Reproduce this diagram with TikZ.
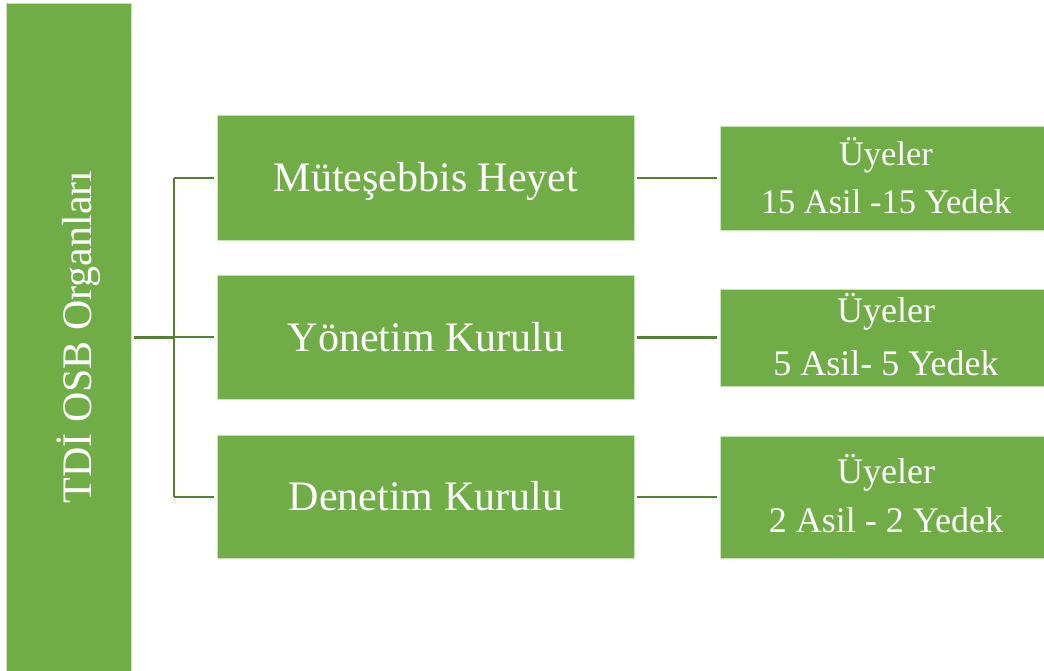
\documentclass[tikz,border=0pt]{standalone}
\usepackage{fontspec}
\setmainfont{Liberation Serif}
\definecolor{boxgreen}{HTML}{70AD47}
\definecolor{linegreen}{HTML}{548235}
\definecolor{edgegreen}{HTML}{C9E3B8}
\begin{document}
\begin{tikzpicture}[x=1pt,y=-1pt,
  gbox/.style={fill=boxgreen,draw=edgegreen,line width=0.6pt,inner sep=0pt},
  bigtxt/.style={text=white,font=\fontsize{42}{48}\selectfont,anchor=base,inner sep=0pt},
  smalltxt/.style={text=white,font=\fontsize{34.5}{40}\selectfont,anchor=base,inner sep=0pt},
  conn/.style={draw=linegreen,line width=2.6pt}]
\useasboundingbox (0,0) rectangle (1044,670);
% tall box
\node[gbox,minimum width=125pt,minimum height=670pt] (tall) at (68.5,338) {};
\node[bigtxt,rotate=90] (talltxt) at (91,337) {TDİ OSB Organları};
% main boxes
\node[gbox,minimum width=417pt,minimum height=125pt] (m1) at (425.5,177.5) {};
\node[gbox,minimum width=417pt,minimum height=124pt] (m2) at (425.5,337) {};
\node[gbox,minimum width=417pt,minimum height=123pt] (m3) at (425.5,496.5) {};
\node[bigtxt] (m1t) at (426,191) {Müteşebbis Heyet};
\node[bigtxt] (m2t) at (426,351) {Yönetim Kurulu};
\node[bigtxt] (m3t) at (426,510) {Denetim Kurulu};
% right boxes
\node[gbox,minimum width=332pt,minimum height=104pt] (r1) at (886,178) {};
\node[gbox,minimum width=332pt,minimum height=97pt] (r2) at (886,337.5) {};
\node[gbox,minimum width=332pt,minimum height=122pt] (r3) at (886,497) {};
\node[smalltxt] (r1a) at (886,165) {Üyeler};
\node[smalltxt] (r1b) at (886,213) {15 Asil -15 Yedek};
\node[font=\fontsize{36}{40}\selectfont,text=white,anchor=base,inner sep=0pt] (r2a) at (886,322) {Üyeler};
\node[font=\fontsize{36}{40}\selectfont,text=white,anchor=base,inner sep=0pt] (r2b) at (886,375) {5 Asil- 5 Yedek};
\node[font=\fontsize{36}{40}\selectfont,text=white,anchor=base,inner sep=0pt] (r3a) at (886,483) {Üyeler};
\node[font=\fontsize{36}{40}\selectfont,text=white,anchor=base,inner sep=0pt] (r3b) at (886,532) {2 Asil - 2 Yedek};
% connectors
\coordinate (j1) at (174,178);
\coordinate (j2) at (174,337);
\coordinate (j3) at (174,497);
\draw[conn,line width=3pt,shorten <=3pt] (tall.east |- j2) -- (j2);
\draw[conn] (j1) -- (j3);
\draw[conn,shorten >=3pt] (j1) -- (j1 -| m1.west);
\draw[conn,shorten >=3pt] (j2) -- (m2.west);
\draw[conn,shorten >=3pt] (j3) -- (j3 -| m3.west);
\draw[conn,shorten <=3pt,shorten >=3pt] (m1.east |- r1) -- (r1.west);
\draw[conn,shorten <=3pt,shorten >=3pt] (m2.east |- r2) -- (r2.west);
\draw[conn,shorten <=3pt,shorten >=3pt] (m3.east |- r3) -- (r3.west);
\end{tikzpicture}
\end{document}
